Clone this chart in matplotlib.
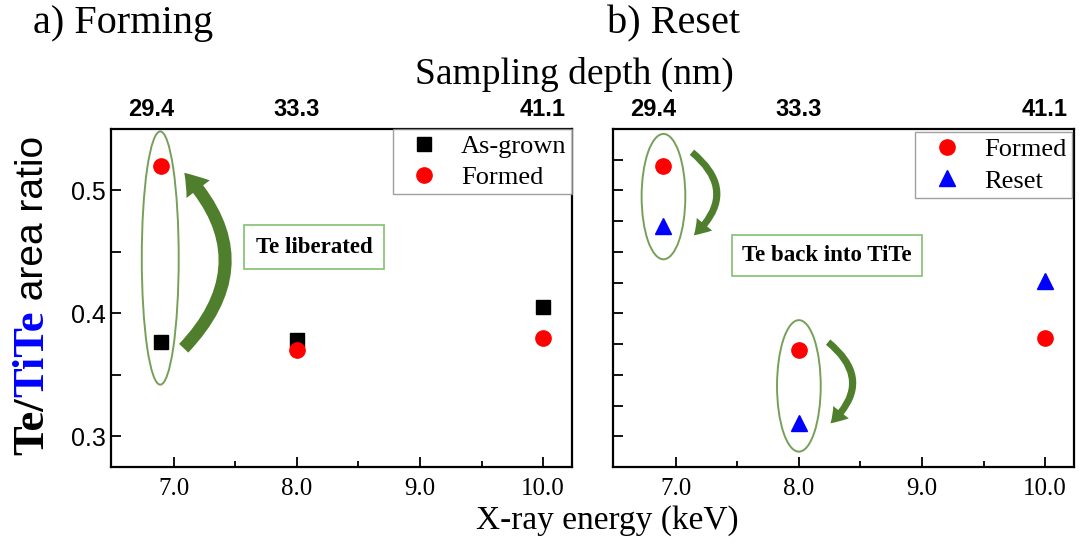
import matplotlib
matplotlib.use("Agg")
import matplotlib.pyplot as plt
from matplotlib.patches import Ellipse, FancyArrowPatch

###################################
# Data

energy = [6.9, 8.0, 10.0]            # X-ray energy (keV)
depth_pos = [6.82, 8.0, 10.0]        # where the depth labels sit on the top axis
depth_labels = ["29.4", "33.3", "41.1"]  # sampling depth (nm)

as_grown = [0.377, 0.378, 0.405]
formed = [0.520, 0.370, 0.380]
reset = [0.471, 0.311, 0.426]

###################################
# Style helpers

SERIF = "Liberation Serif"
SANS = "Liberation Sans"
ELL_GREEN = "#76a05a"
ARROW_GREEN = "#4f7f2c"
BOX_GREEN = "#8cc47c"

W, H = 1081, 545
fig = plt.figure(figsize=(W / 100, H / 100), dpi=100)

ax_a = fig.add_axes([111 / W, 1 - 467 / H, 461 / W, 338 / H])
ax_b = fig.add_axes([613 / W, 1 - 467 / H, 461 / W, 338 / H])


def setup_axes(ax):
    ax.set_xlim(6.49, 10.235)
    ax.set_ylim(0.275, 0.55)
    ax.set_xticks([7, 8, 9, 10])
    ax.set_xticks([7.5, 8.5, 9.5], minor=True)
    ax.set_xticklabels(["7.0", "8.0", "9.0", "10.0"], fontfamily=SERIF, fontsize=18)
    ax.tick_params(axis="x", which="both", direction="in", top=True, bottom=True)
    ax.tick_params(axis="x", which="major", length=7, width=1.3, pad=8)
    ax.tick_params(axis="x", which="minor", length=4, width=1.3)
    ax.tick_params(axis="y", which="both", direction="in", width=1.3)
    for s in ax.spines.values():
        s.set_linewidth(1.6)
    # top axis with sampling depth labels
    top = ax.twiny()
    top.set_xlim(ax.get_xlim())
    top.set_xticks(depth_pos)
    top.set_xticklabels(depth_labels, fontfamily=SANS, fontweight="bold", fontsize=17)
    top.tick_params(axis="x", length=0, pad=6)
    for s in top.spines.values():
        s.set_visible(False)
    return top


setup_axes(ax_a)
setup_axes(ax_b)

# y ticks
ax_a.set_yticks([0.3, 0.4, 0.5])
ax_a.set_yticks([0.35, 0.45], minor=True)
ax_a.set_yticklabels(["0.3", "0.4", "0.5"], fontfamily=SANS, fontsize=18)
ax_a.tick_params(axis="y", which="major", length=7)
ax_a.tick_params(axis="y", which="minor", length=7)
ax_b.set_yticks([0.3 + 0.025 * i for i in range(10)])
ax_b.set_yticklabels([])
ax_b.tick_params(axis="y", which="major", length=7)

leg_kw = dict(prop={"family": SERIF, "size": 19}, fancybox=False, edgecolor="#888888",
              handletextpad=0.4, borderpad=0.2, labelspacing=0.3, handlelength=2.0,
              borderaxespad=0, loc="upper right")

###################################
# Panel a) Forming

ax_a.plot(energy, as_grown, "s", color="black", markersize=10, label="As-grown", zorder=3)
ax_a.plot(energy, formed, "o", color="red", markersize=11, label="Formed", zorder=4)
leg = ax_a.legend(bbox_to_anchor=(1, 1), **leg_kw)
leg.get_frame().set_linewidth(1.0)

ax_a.add_patch(Ellipse((6.89, 0.445), 0.30, 0.206, fill=False,
                       edgecolor=ELL_GREEN, linewidth=1.4, zorder=2))
ax_a.add_patch(FancyArrowPatch((7.065, 0.370), (7.07, 0.516),
                               connectionstyle="arc3,rad=0.48",
                               arrowstyle="simple,head_length=1.1,head_width=1.5,tail_width=0.65",
                               mutation_scale=14, color=ARROW_GREEN, linewidth=0, zorder=2))
ax_a.text(8.14, 0.4537, "Te liberated", fontfamily=SERIF, fontweight="bold", fontsize=16.5,
          ha="center", va="center",
          bbox=dict(boxstyle="square,pad=0.5", facecolor="white", edgecolor=BOX_GREEN, linewidth=1.3))

###################################
# Panel b) Reset

ax_b.plot(energy, formed, "o", color="red", markersize=11, label="Formed", zorder=4)
ax_b.plot(energy, reset, "^", color="blue", markersize=11, label="Reset", zorder=4)
leg = ax_b.legend(bbox_to_anchor=(0.995, 0.99), **leg_kw)
leg.get_frame().set_linewidth(1.0)

ax_b.add_patch(Ellipse((6.9, 0.495), 0.355, 0.102, fill=False,
                       edgecolor=ELL_GREEN, linewidth=1.4, zorder=2))
ax_b.add_patch(Ellipse((8.0, 0.341), 0.355, 0.107, fill=False,
                       edgecolor=ELL_GREEN, linewidth=1.4, zorder=2))
for start, end in [((7.114, 0.5325), (7.13, 0.462)), ((8.22, 0.378), (8.24, 0.309))]:
    ax_b.add_patch(FancyArrowPatch(start, end, connectionstyle="arc3,rad=-0.6",
                                   arrowstyle="simple,head_length=1.0,head_width=1.3,tail_width=0.45",
                                   mutation_scale=11, color=ARROW_GREEN, linewidth=0, zorder=2))
ax_b.text(8.23, 0.447, "Te back into TiTe", fontfamily=SERIF, fontweight="bold", fontsize=16.5,
          ha="center", va="center",
          bbox=dict(boxstyle="square,pad=0.45", facecolor="white", edgecolor=BOX_GREEN, linewidth=1.3))

###################################
# Figure texts

fig.text(33 / W, 1 - 24 / H, "a) Forming", fontfamily=SERIF, fontsize=29, va="center", ha="left")
fig.text(607 / W, 1 - 24 / H, "b) Reset", fontfamily=SERIF, fontsize=29, va="center", ha="left")
fig.text(574 / W, 1 - 74 / H, "Sampling depth (nm)", fontfamily=SERIF, fontsize=27, va="center", ha="center")
fig.text(607 / W, 1 - 521 / H, "X-ray energy (keV)", fontfamily=SERIF, fontsize=24, va="center", ha="center")

# multi-coloured y label, built piece by piece from the bottom up
fig.canvas.draw()
renderer = fig.canvas.get_renderer()
pieces = [("Te/", "black", SERIF, "bold", 32),
          ("TiTe", "blue", SERIF, "bold", 32),
          (" area ratio", "black", SANS, "normal", 28)]
y_px = H - 455
for txt, col, fam, wt, fs in pieces:
    t = fig.text(43 / W, y_px / H, txt, color=col, fontfamily=fam, fontweight=wt, fontsize=fs,
                 rotation=90, rotation_mode="anchor", ha="left", va="baseline")
    y_px += t.get_window_extent(renderer).height

fig.savefig("out.png", dpi=100)
